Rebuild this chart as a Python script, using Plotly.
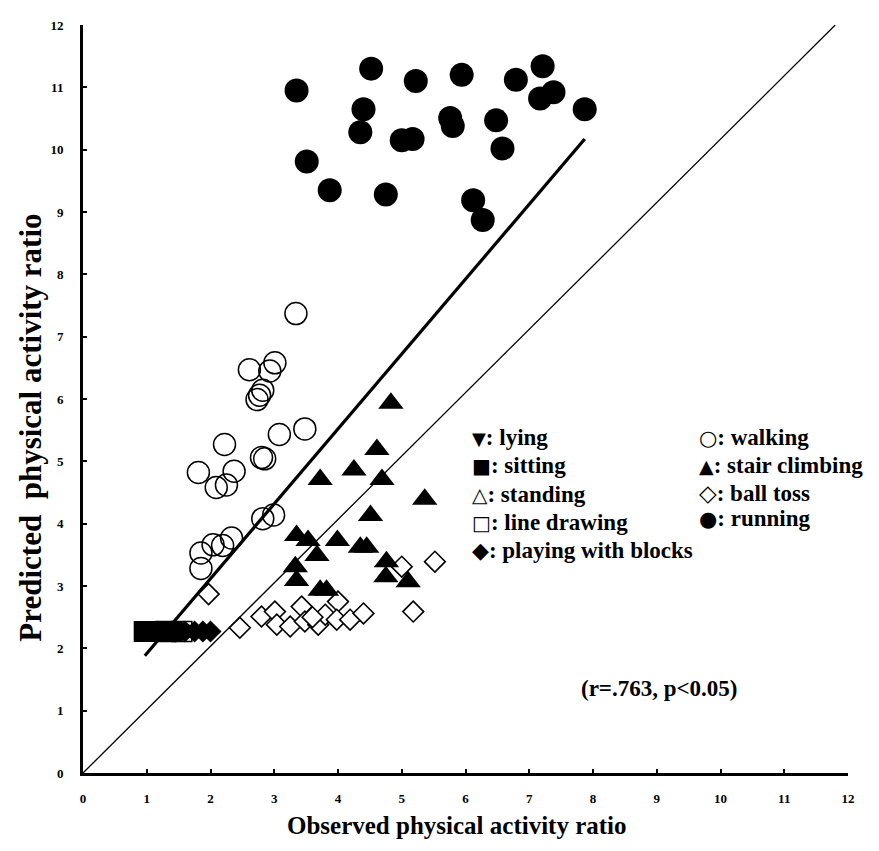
import plotly.graph_objects as go

# ---------------- data ----------------
running_x = [3.35, 4.52, 5.22, 5.94, 6.79, 7.21, 7.38, 7.17, 7.87, 4.40, 4.35,
             5.00, 5.17, 5.76, 5.80, 6.48, 6.58, 3.51, 3.87, 4.75, 6.12, 6.27]
running_y = [10.95, 11.30, 11.10, 11.20, 11.12, 11.34, 10.92, 10.82, 10.65, 10.65, 10.28,
             10.15, 10.17, 10.51, 10.38, 10.47, 10.02, 9.81, 9.35, 9.28, 9.19, 8.87]

walking_x = [3.34, 2.61, 3.01, 2.93, 2.82, 2.77, 2.73, 3.08, 3.48, 2.22, 2.80, 2.85,
             1.81, 2.37, 2.09, 2.25, 2.82, 2.99, 2.33, 2.19, 2.04, 1.85, 1.85]
walking_y = [7.37, 6.47, 6.58, 6.45, 6.14, 6.06, 5.99, 5.43, 5.52, 5.27, 5.06, 5.04,
             4.82, 4.84, 4.58, 4.62, 4.08, 4.14, 3.77, 3.65, 3.66, 3.53, 3.28]

stair_x = [4.83, 4.61, 4.25, 3.72, 4.69, 5.36, 4.51, 3.99, 4.35, 4.45, 4.76, 4.75,
           5.10, 3.67, 3.35, 3.53, 3.33, 3.35, 3.72, 3.82]
stair_y = [5.93, 5.19, 4.86, 4.71, 4.71, 4.39, 4.13, 3.73, 3.62, 3.62, 3.39, 3.15,
           3.07, 3.49, 3.81, 3.73, 3.31, 3.09, 2.93, 2.93]

balltoss_x = [1.97, 2.46, 2.80, 3.01, 3.04, 3.25, 3.43, 3.48, 3.69, 3.80, 4.00, 3.98,
              4.19, 4.40, 5.18, 5.00, 5.52, 3.60]
balltoss_y = [2.87, 2.33, 2.51, 2.59, 2.38, 2.35, 2.67, 2.43, 2.38, 2.54, 2.75, 2.46,
              2.46, 2.56, 2.59, 3.31, 3.39, 2.50]

sitting_x = [0.96, 1.10, 1.25, 1.40]
sitting_y = [2.27, 2.27, 2.27, 2.27]
lying_x = [1.35, 1.50]
lying_y = [2.30, 2.30]
standing_x = [1.20, 1.40]
standing_y = [2.25, 2.25]
linedraw_x = [1.30, 1.55]
linedraw_y = [2.27, 2.27]
blocks_x = [1.45, 1.60, 1.75, 1.88, 2.00]
blocks_y = [2.27, 2.27, 2.27, 2.27, 2.27]

fit_x = [0.97, 7.87]
fit_y = [1.88, 10.17]
identity_x = [0, 11.8]
identity_y = [0, 12.0]

tick_vals = list(range(13))
tick_text = [str(v) for v in tick_vals]

legend_left_sym = ["▼", "■", "△", "□", "◆"]
legend_left_lab = ["lying", "sitting", "standing", "line drawing", "playing with blocks"]
legend_right_sym = ["○", "▲", "◇", "●"]
legend_right_lab = ["walking", "stair climbing", "ball toss", "running"]
stat_text = "(r=.763, p<0.05)"
x_title = "Observed physical activity ratio"
y_title = "Predicted  physical activity ratio"

SERIF = "Liberation Serif, Times New Roman, serif"
SYM_SIZE = {"▼": 18, "■": 20, "△": 20, "□": 20, "◆": 22,
            "○": 21, "▲": 19, "◇": 23, "●": 21}

fig = go.Figure()

fig.add_trace(go.Scatter(x=identity_x, y=identity_y, mode="lines",
                         line=dict(color="black", width=1.3), hoverinfo="skip"))
fig.add_trace(go.Scatter(x=fit_x, y=fit_y, mode="lines",
                         line=dict(color="black", width=3.2), hoverinfo="skip"))

fig.add_trace(go.Scatter(x=standing_x, y=standing_y, mode="markers", name="standing",
                         marker=dict(symbol="triangle-up-open", size=20, color="black",
                                     line=dict(width=1.5, color="black"))))
fig.add_trace(go.Scatter(x=linedraw_x, y=linedraw_y, mode="markers", name="line drawing",
                         marker=dict(symbol="square-open", size=20, color="black",
                                     line=dict(width=1.5, color="black"))))
fig.add_trace(go.Scatter(x=sitting_x, y=sitting_y, mode="markers", name="sitting",
                         marker=dict(symbol="square", size=21, color="black")))
fig.add_trace(go.Scatter(x=lying_x, y=lying_y, mode="markers", name="lying",
                         marker=dict(symbol="triangle-down", size=20, color="black")))
fig.add_trace(go.Scatter(x=blocks_x, y=blocks_y, mode="markers", name="playing with blocks",
                         marker=dict(symbol="diamond", size=17, color="black")))

fig.add_trace(go.Scatter(x=balltoss_x, y=balltoss_y, mode="markers", name="ball toss",
                         marker=dict(symbol="diamond", size=16, color="white",
                                     line=dict(width=1.6, color="black"))))
fig.add_trace(go.Scatter(x=walking_x, y=walking_y, mode="markers", name="walking",
                         marker=dict(symbol="circle-open", size=22, color="black",
                                     line=dict(width=1.5, color="black"))))
fig.add_trace(go.Scatter(x=stair_x, y=stair_y, mode="markers", name="stair climbing",
                         marker=dict(symbol="triangle-up", size=22, color="black")))
fig.add_trace(go.Scatter(x=running_x, y=running_y, mode="markers", name="running",
                         marker=dict(symbol="circle", size=24, color="black")))

axis_common = dict(range=[0, 12], tickvals=tick_vals, ticktext=tick_text,
                   showline=True, linecolor="black", linewidth=3,
                   ticks="inside", ticklen=4, tickwidth=2, tickcolor="black",
                   showgrid=False, zeroline=False,
                   tickfont=dict(family=SERIF, size=13, color="black", weight="bold"))

fig.update_xaxes(**axis_common, ticklabelstandoff=11)
fig.update_yaxes(**axis_common, ticklabelstandoff=14)

LEG_FONT = dict(family=SERIF, size=23, color="black", weight="bold")


def legend_text(sym, lab):
    return (f"<span style='font-family:DejaVu Sans;font-size:{SYM_SIZE[sym]}px'>{sym}</span>"
            f": {lab}")


annotations = []
left_y = [0.448, 0.411, 0.372, 0.335, 0.298]
for s, lab, yy in zip(legend_left_sym, legend_left_lab, left_y):
    annotations.append(dict(x=0.506, y=yy, xref="paper", yref="paper",
                            text=legend_text(s, lab),
                            showarrow=False, xanchor="left", yanchor="middle", font=LEG_FONT))
right_y = [0.448, 0.411, 0.375, 0.340]
for s, lab, yy in zip(legend_right_sym, legend_right_lab, right_y):
    annotations.append(dict(x=0.803, y=yy, xref="paper", yref="paper",
                            text=legend_text(s, lab),
                            showarrow=False, xanchor="left", yanchor="middle", font=LEG_FONT))
annotations.append(dict(x=0.754, y=0.113, xref="paper", yref="paper", text=stat_text,
                        showarrow=False, xanchor="center", yanchor="middle",
                        font=dict(family=SERIF, size=23, color="black", weight="bold")))
annotations.append(dict(x=0.489, y=-0.070, xref="paper", yref="paper",
                        text=x_title, showarrow=False,
                        xanchor="center", yanchor="middle",
                        font=dict(family=SERIF, size=25, color="black", weight="bold")))
annotations.append(dict(x=-0.069, y=0.462, xref="paper", yref="paper",
                        text=y_title, showarrow=False,
                        textangle=-90, xanchor="center", yanchor="middle",
                        font=dict(family=SERIF, size=31, color="black", weight="bold")))

fig.update_layout(width=871, height=843, margin=dict(l=75, r=31, t=10, b=78),
                  paper_bgcolor="white", plot_bgcolor="white", showlegend=False,
                  annotations=annotations)

fig.write_html("out.html")
